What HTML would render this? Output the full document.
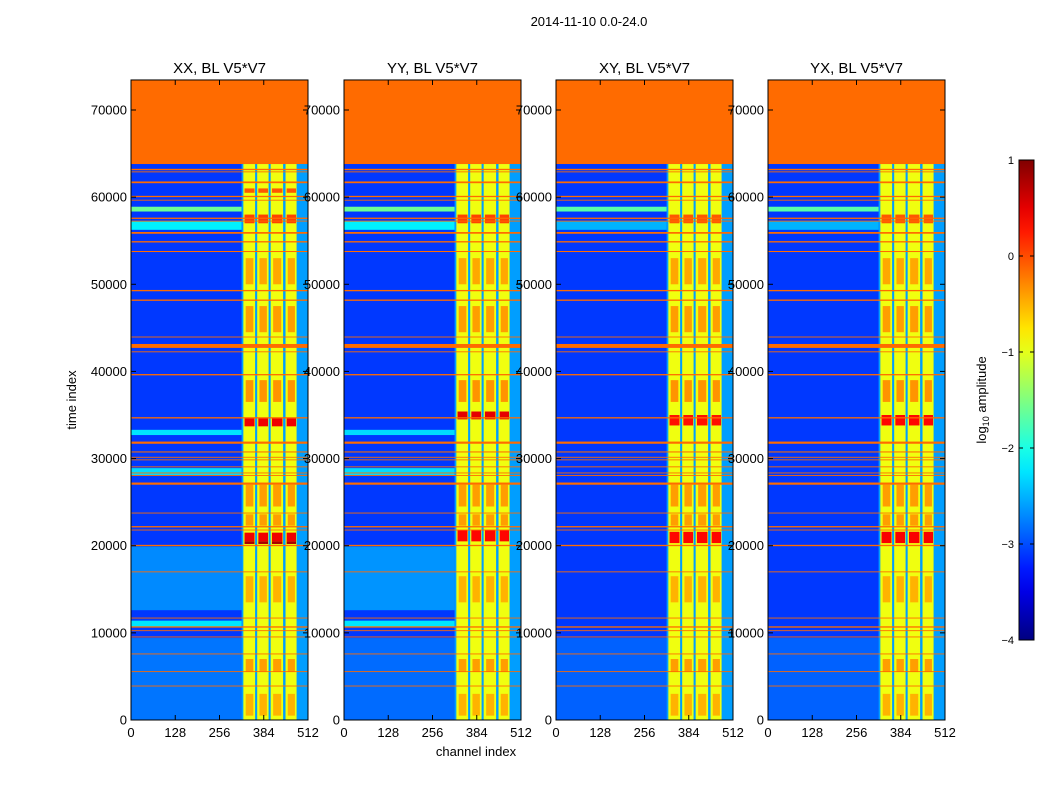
<!DOCTYPE html>
<html><head><meta charset="utf-8">
<style>
body{margin:0;background:#fff;}
svg text{font-family:"Liberation Sans",sans-serif;}
</style></head>
<body>
<svg id="c" width="1050" height="800" viewBox="0 0 1050 800" xmlns="http://www.w3.org/2000/svg">
<text x="589" y="26" font-size="13" text-anchor="middle">2014-11-10 0.0-24.0</text>
<text x="476" y="756" font-size="13" text-anchor="middle">channel index</text>
<text x="0" y="0" font-size="13" text-anchor="middle" transform="translate(76,400) rotate(-90)">time index</text>
<g id="panels"></g>
<g id="cbar"></g>
</svg>
<script>
// ---- data (log10 amplitude) ----
const panelTitles = ["XX, BL V5*V7","YY, BL V5*V7","XY, BL V5*V7","YX, BL V5*V7"];
const xTicks = [0,128,256,384,512];
const yTicks = [0,10000,20000,30000,40000,50000,60000,70000];
const baseLevel = -3.1;
const topBlock = [63800, 73447, -0.15];
const rfiLevel = -0.15;
const channelBlocks = [[325,359],[365,398],[404,440],[447,479]];
const blockLevel = -0.95;
const gapLevel = -2.3;
const edgeBand = [479, 512, -2.6];
// orange RFI lines: [time start, time end]
const rfiLines = [[64700,64900],[63100,63250],[62850,62950],[61600,61800],[60000,60150],[59600,59700],[57500,57650],[57200,57300],[55800,56000],[54800,54950],[53700,53820],[49200,49350],[48100,48250],[43900,44000],[42700,43150],[42200,42300],[39550,39700],[34600,34750],[31700,31950],[30700,30820],[30100,30200],[29800,29900],[29000,29100],[28300,28400],[28000,28100],[27000,27250],[23700,23800],[22100,22250],[21750,21850],[19950,20100],[16950,17050],[11650,11750],[10600,10750],[10200,10300],[9480,9580],[7530,7630],[5500,5600],[3850,3950]];
// cyan bands per panel: [start,end,level]
const cyanXX = [[58350,58900,-1.6],[56250,57200,-2.2],[32700,33300,-2.25],[28100,28900,-2.3],[12600,19900,-2.7],[10700,11400,-2.25],[0,9400,-2.8]];
const cyanYY = [[58350,58900,-1.6],[56250,57200,-2.2],[32700,33300,-2.3],[28100,28900,-2.3],[12600,19900,-2.65],[10700,11400,-2.25],[0,9400,-2.85]];
const cyanXY = [[58350,58900,-1.7],[56250,57200,-2.5],[0,9400,-2.9]];
const cyanYX = [[58350,58900,-1.7],[56250,57200,-2.5],[0,9400,-2.9]];
// hot spots inside channel blocks: [start,end,level]
const hotXX = [[33700,34600,0.45],[20200,20500,0.8],[20500,21500,0.45],[57000,58000,0.05],[60500,61000,-0.05]];
const hotYY = [[34500,35400,0.5],[20500,21800,0.35],[57000,58000,0.05]];
const hotXY = [[33800,35000,0.3],[20300,21600,0.35],[57000,58000,-0.05]];
const hotYX = [[33800,35000,0.35],[20300,21600,0.4],[57000,58000,-0.05]];
// orange patches within yellow blocks: [start,end,level]
const patches = [[50000,53000,-0.45],[44500,47500,-0.4],[36500,39000,-0.35],[24500,27000,-0.4],[22300,23600,-0.4],[13500,16500,-0.5],[5500,7000,-0.4],[500,3000,-0.5]];
const cbTicks = [1,0,-1,-2,-3,-4];

const panelX = [131,344,556,768];
const PW = 177, Y0 = 720, YS = 0.0087143, VMIN=-4, VMAX=1;
const cyanSets=[cyanXX,cyanYY,cyanXY,cyanYX], hotSets=[hotXX,hotYY,hotXY,hotYX];
const NS="http://www.w3.org/2000/svg";
function jet(v){let n=(v-VMIN)/(VMAX-VMIN);n=Math.max(0,Math.min(1,n));
 const c=x=>Math.round(255*Math.max(0,Math.min(1,1.5-Math.abs(x))));
 return `rgb(${c(4*n-3)},${c(4*n-2)},${c(4*n-1)})`;}
function el(tag,attrs,parent){const e=document.createElementNS(NS,tag);for(const k in attrs)e.setAttribute(k,attrs[k]);parent.appendChild(e);return e;}
const panels=document.getElementById('panels');
panelTitles.forEach((title,i)=>{
 const px=panelX[i];
 const xs=ch=>px+ch/512*PW, ys=t=>Y0-t*YS;
 const g=el('g',{},panels);
 
 
 const rect=(c0,c1,t0,t1,v,name)=>{const r=el('rect',{x:xs(c0),y:ys(t1),width:xs(c1)-xs(c0),height:Math.max(0.8,ys(t0)-ys(t1)),fill:jet(v)},g);
  
  return r;};
 rect(0,512,0,topBlock[1],baseLevel,'background');
 cyanSets[i].forEach(b=>rect(0,channelBlocks[0][0]-5,b[0],b[1],b[2],'cyan-band'));
 rect(channelBlocks[0][0]-5,512,0,topBlock[0],gapLevel-0.3,'gap-region');
 rect(edgeBand[0],edgeBand[1],0,topBlock[0],edgeBand[2],'edge-band');
 channelBlocks.forEach(cb=>{
  rect(cb[0],cb[1],0,topBlock[0],blockLevel,'channel-block');
  const w=cb[1]-cb[0];
  patches.forEach(p=>rect(cb[0]+w*0.2,cb[1]-w*0.15,p[0],p[1],p[2],'orange-patch'));
  hotSets[i].forEach(h=>rect(cb[0]+w*0.1,cb[1]-w*0.05,h[0],h[1],h[2],'hot-spot'));
 });
 rfiLines.forEach(l=>rect(0,512,l[0],l[1],rfiLevel,'rfi-line'));
 rect(0,512,topBlock[0],topBlock[1],topBlock[2],'flagged-block');
 el('rect',{x:px,y:ys(topBlock[1]),width:PW,height:ys(0)-ys(topBlock[1]),fill:'none',stroke:'#000','stroke-width':1},g);
 const t=el('text',{x:px+PW/2,y:73,'font-size':15,'text-anchor':'middle'},g);t.textContent=title;
 
 
 xTicks.forEach(v=>{const x=xs(v);
  el('line',{x1:x,x2:x,y1:Y0,y2:Y0-5,stroke:'#000'},g);
  el('line',{x1:x,x2:x,y1:ys(topBlock[1]),y2:ys(topBlock[1])+5,stroke:'#000'},g);
  const tx=el('text',{x:x,y:737,'font-size':13,'text-anchor':'middle'},g);tx.textContent=v;
  
  });
 yTicks.forEach(v=>{const y=ys(v);
  el('line',{x1:px,x2:px+5,y1:y,y2:y,stroke:'#000'},g);
  el('line',{x1:px+PW,x2:px+PW-5,y1:y,y2:y,stroke:'#000'},g);
  const ty=el('text',{x:px-4,y:y+4.5,'font-size':13,'text-anchor':'end'},g);ty.textContent=v;
  
  });
});
// colorbar
const cb=document.getElementById('cbar');


const CB={x:1019,w:15,y0:640,y1:160};
const cys=v=>CB.y0-(v-VMIN)/(VMAX-VMIN)*(CB.y0-CB.y1);
const defs=el('defs',{},cb);const lg=el('linearGradient',{id:'jg',x1:0,y1:1,x2:0,y2:0},defs);
for(let k=0;k<=20;k++){const v=VMIN+k/20*(VMAX-VMIN);el('stop',{offset:k/20,'stop-color':jet(v)},lg);}
el('rect',{x:CB.x,y:CB.y1,width:CB.w,height:CB.y0-CB.y1,fill:'url(#jg)',stroke:'#000'},cb);
cbTicks.forEach(v=>{const y=cys(v);
 el('line',{x1:CB.x,x2:CB.x+4,y1:y,y2:y,stroke:'#000'},cb);
 el('line',{x1:CB.x+CB.w,x2:CB.x+CB.w-4,y1:y,y2:y,stroke:'#000'},cb);
 const t=el('text',{x:1014,y:y+4,'font-size':11,'text-anchor':'end'},cb);t.textContent=v<0?'\u2212'+(-v):v;
 
 });
const lab=el('text',{'font-size':13,'text-anchor':'middle',transform:'translate(986,400) rotate(-90)'},cb);
lab.innerHTML='log<tspan font-size="9" dy="3">10</tspan><tspan dy="-3"> amplitude</tspan>';


</script>
</body></html>
